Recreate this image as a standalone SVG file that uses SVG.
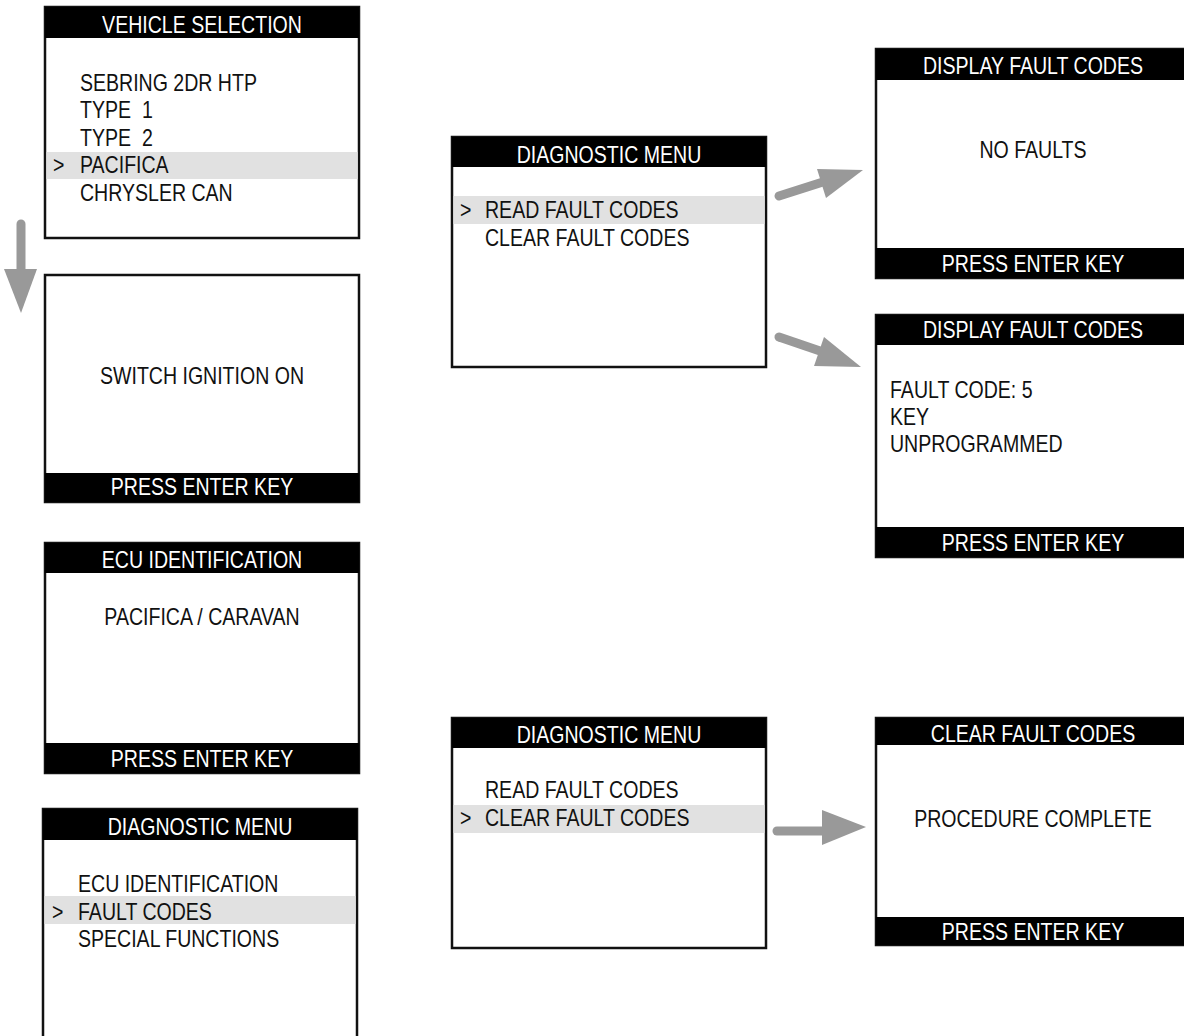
<svg xmlns="http://www.w3.org/2000/svg" width="1184" height="1036" viewBox="0 0 1184 1036">
<style>
.frame{fill:#fff;stroke:#111;stroke-width:2.5}
.bar{fill:#000}
.hl{fill:#e1e1e1}
.t{font-family:"Liberation Sans",Arial,sans-serif;font-size:23px;fill:#111}
.w{font-family:"Liberation Sans",Arial,sans-serif;font-size:23px;fill:#fff;text-anchor:middle}
.c{text-anchor:middle}
.shaft{stroke:#999;stroke-width:9;stroke-linecap:round;fill:none}
.head{fill:#999}
</style>
<rect width="1184" height="1036" fill="#fff"/>

<g id="vehicle-selection">
<rect class="frame" x="45" y="7" width="314" height="231"/>
<rect class="bar" x="45" y="7" width="314" height="31"/>
<text class="w" transform="translate(202,33) scale(0.85,1)">VEHICLE SELECTION</text>
<rect class="hl" x="46.5" y="152" width="311" height="27"/>
<text class="t" transform="translate(80,91) scale(0.85,1)">SEBRING 2DR HTP</text>
<text class="t" transform="translate(80,118) scale(0.85,1)" xml:space="preserve">TYPE  1</text>
<text class="t" transform="translate(80,146) scale(0.85,1)" xml:space="preserve">TYPE  2</text>
<text class="t" transform="translate(53,173) scale(0.85,1)">&gt;</text>
<text class="t" transform="translate(80,173) scale(0.85,1)">PACIFICA</text>
<text class="t" transform="translate(80,201) scale(0.85,1)">CHRYSLER CAN</text>
</g>

<g id="switch-ignition">
<rect class="frame" x="45" y="275" width="314" height="227"/>
<rect class="bar" x="45" y="473" width="314" height="29"/>
<text class="t c" transform="translate(202,384) scale(0.85,1)">SWITCH IGNITION ON</text>
<text class="w" transform="translate(202,495) scale(0.85,1)">PRESS ENTER KEY</text>
</g>

<g id="ecu-identification">
<rect class="frame" x="45" y="543" width="314" height="230"/>
<rect class="bar" x="45" y="543" width="314" height="30"/>
<text class="w" transform="translate(202,568) scale(0.85,1)">ECU IDENTIFICATION</text>
<text class="t c" transform="translate(202,625) scale(0.85,1)">PACIFICA / CARAVAN</text>
<rect class="bar" x="45" y="743" width="314" height="30"/>
<text class="w" transform="translate(202,767) scale(0.85,1)">PRESS ENTER KEY</text>
</g>

<g id="diagnostic-menu-1">
<rect class="frame" x="43" y="809" width="314" height="240"/>
<rect class="bar" x="43" y="809" width="314" height="31"/>
<text class="w" transform="translate(200,835) scale(0.85,1)">DIAGNOSTIC MENU</text>
<rect class="hl" x="44.5" y="896" width="311" height="28"/>
<text class="t" transform="translate(78,892) scale(0.85,1)">ECU IDENTIFICATION</text>
<text class="t" transform="translate(52,920) scale(0.85,1)">&gt;</text>
<text class="t" transform="translate(78,920) scale(0.85,1)">FAULT CODES</text>
<text class="t" transform="translate(78,947) scale(0.85,1)">SPECIAL FUNCTIONS</text>
</g>

<g id="diagnostic-menu-2">
<rect class="frame" x="452" y="137" width="314" height="230"/>
<rect class="bar" x="452" y="137" width="314" height="30"/>
<text class="w" transform="translate(609,163) scale(0.85,1)">DIAGNOSTIC MENU</text>
<rect class="hl" x="453.5" y="196" width="311" height="28"/>
<text class="t" transform="translate(460,218) scale(0.85,1)">&gt;</text>
<text class="t" transform="translate(485,218) scale(0.85,1)">READ FAULT CODES</text>
<text class="t" transform="translate(485,246) scale(0.85,1)">CLEAR FAULT CODES</text>
</g>

<g id="display-no-faults">
<rect class="frame" x="876" y="49" width="314" height="229"/>
<rect class="bar" x="876" y="49" width="314" height="31"/>
<text class="w" transform="translate(1033,74) scale(0.85,1)">DISPLAY FAULT CODES</text>
<text class="t c" transform="translate(1033,158) scale(0.85,1)">NO FAULTS</text>
<rect class="bar" x="876" y="248" width="314" height="30"/>
<text class="w" transform="translate(1033,272) scale(0.85,1)">PRESS ENTER KEY</text>
</g>

<g id="display-fault-code">
<rect class="frame" x="876" y="315" width="314" height="242"/>
<rect class="bar" x="876" y="315" width="314" height="30"/>
<text class="w" transform="translate(1033,338) scale(0.85,1)">DISPLAY FAULT CODES</text>
<text class="t" transform="translate(890,398) scale(0.85,1)">FAULT CODE: 5</text>
<text class="t" transform="translate(890,425) scale(0.85,1)">KEY</text>
<text class="t" transform="translate(890,452) scale(0.85,1)">UNPROGRAMMED</text>
<rect class="bar" x="876" y="527" width="314" height="30"/>
<text class="w" transform="translate(1033,551) scale(0.85,1)">PRESS ENTER KEY</text>
</g>

<g id="diagnostic-menu-3">
<rect class="frame" x="452" y="718" width="314" height="230"/>
<rect class="bar" x="452" y="718" width="314" height="30"/>
<text class="w" transform="translate(609,743) scale(0.85,1)">DIAGNOSTIC MENU</text>
<rect class="hl" x="453.5" y="805" width="311" height="28"/>
<text class="t" transform="translate(485,798) scale(0.85,1)">READ FAULT CODES</text>
<text class="t" transform="translate(460,826) scale(0.85,1)">&gt;</text>
<text class="t" transform="translate(485,826) scale(0.85,1)">CLEAR FAULT CODES</text>
</g>

<g id="clear-fault-codes">
<rect class="frame" x="876" y="718" width="314" height="227"/>
<rect class="bar" x="876" y="718" width="314" height="27"/>
<text class="w" transform="translate(1033,742) scale(0.85,1)">CLEAR FAULT CODES</text>
<text class="t c" transform="translate(1033,827) scale(0.85,1)">PROCEDURE COMPLETE</text>
<rect class="bar" x="876" y="917" width="314" height="28"/>
<text class="w" transform="translate(1033,940) scale(0.85,1)">PRESS ENTER KEY</text>
</g>

<g id="connectors">
<line class="shaft" x1="21" y1="224" x2="21" y2="272"/>
<polygon class="head" points="4,269 37,269 21,313"/>
<line class="shaft" x1="779" y1="196" x2="826" y2="181"/>
<polygon class="head" points="817,169 826,198 863,170"/>
<line class="shaft" x1="779" y1="337" x2="823" y2="352"/>
<polygon class="head" points="824,337 814,366 861,367"/>
<line class="shaft" x1="777" y1="831" x2="826" y2="831"/>
<polygon class="head" points="822,810 822,845 866,827"/>
</g>
</svg>
